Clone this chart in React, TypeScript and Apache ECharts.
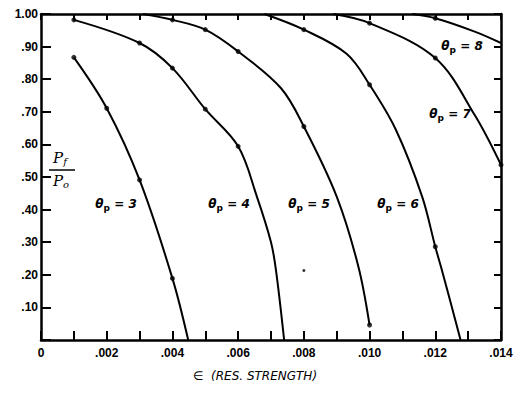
import React, { useEffect, useRef } from "react";
import * as echarts from "echarts";

// Curves (epsilon, Pf/Po)
const curve3: number[][] = [[0.001, 0.867], [0.002, 0.711], [0.003, 0.491], [0.004, 0.189], [0.00448, 0]];
const curve4: number[][] = [[0.001, 0.982], [0.003, 0.911], [0.004, 0.834], [0.005, 0.708], [0.006, 0.594], [0.00657, 0.44], [0.007, 0.3], [0.00715, 0.215], [0.0074, 0]];
const curve5: number[][] = [[0.0031, 1.0], [0.004, 0.982], [0.005, 0.952], [0.006, 0.885], [0.0073, 0.773], [0.008, 0.655], [0.009, 0.44], [0.00966, 0.225], [0.01, 0.046]];
const curve6: number[][] = [[0.0068, 1.0], [0.008, 0.952], [0.0093, 0.878], [0.01, 0.783], [0.0108, 0.645], [0.0116, 0.44], [0.012, 0.286], [0.0122, 0.215], [0.01277, 0]];
const curve7: number[][] = [[0.0089, 1.0], [0.01, 0.972], [0.012, 0.865], [0.0132, 0.69], [0.014, 0.537]];
const curve8: number[][] = [[0.0113, 1.0], [0.012, 0.987], [0.0132, 0.946], [0.014, 0.911]];

// Measured points (dots)
const marks3: number[][] = [[0.001, 0.867], [0.002, 0.711], [0.003, 0.491], [0.004, 0.189]];
const marks4: number[][] = [[0.001, 0.982], [0.003, 0.911], [0.004, 0.834], [0.005, 0.708], [0.006, 0.594]];
const marks5: number[][] = [[0.004, 0.982], [0.005, 0.952], [0.006, 0.885], [0.008, 0.655], [0.01, 0.046]];
const marks6: number[][] = [[0.008, 0.952], [0.01, 0.783], [0.012, 0.286]];
const marks7: number[][] = [[0.01, 0.972], [0.012, 0.865], [0.014, 0.537]];
const marks8: number[][] = [[0.012, 0.987]];
const strayPoint: number[][] = [[0.008, 0.213]];

const thetaValues = ["3", "4", "5", "6", "7", "8"];
const xTitle = "∈  (RES. STRENGTH)";

const FONT = "DejaVu Sans";

export default function App() {
  const ref = useRef<HTMLDivElement>(null);
  useEffect(() => {
    if (!ref.current) return;
    const chart = echarts.init(ref.current, null, { renderer: "svg" });
    const curves = [curve3, curve4, curve5, curve6, curve7, curve8];
    const marks = [marks3, marks4, marks5, marks6, marks7, marks8];
    const labelPos = [[116, 204], [229, 204], [309, 204], [398, 204], [450, 114], [462, 46]];

    const lineSeries = curves.map((c, i) => ({
      type: "line",
      name: "θp = " + thetaValues[i],
      data: c,
      smooth: 0.35,
      showSymbol: false,
      symbol: "none",
      lineStyle: { color: "#000", width: 2 },
      silent: true,
    }));
    const markSeries = marks.map((m) => ({
      type: "scatter",
      data: m,
      symbolSize: 5,
      itemStyle: { color: "#000" },
      silent: true,
    }));

    const mkLine = () => ({ show: true, onZero: false, lineStyle: { color: "#000", width: 2.5 } });
    const mkTick = (len: number) => ({ show: true, inside: true, length: len, lineStyle: { color: "#000", width: 2 } });
    const xFmt = (v: number) => {
      const k = Math.round(v * 1000);
      if (k === 0) return "0";
      if (k % 2 !== 0) return "";
      return "." + String(k).padStart(3, "0");
    };
    const yFmt = (v: number) => {
      const k = Math.round(v * 100);
      if (k === 0) return "";
      if (k === 100) return "1.00";
      return "." + String(k).padStart(2, "0");
    };

    const labelGraphics = thetaValues.map((t, i) => ({
      type: "text",
      x: labelPos[i][0],
      y: labelPos[i][1],
      style: {
        text: "{a|θ}{b|p}{a| = " + t + "}",
        align: "center",
        verticalAlign: "middle",
        fill: "#000",
        rich: {
          a: { fontFamily: FONT, fontWeight: "bold", fontSize: 12, fill: "#000", fontStyle: "italic" },
          b: { fontFamily: FONT, fontWeight: "bold", fontSize: 9, fill: "#000", padding: [8, 0, 0, 0], verticalAlign: "bottom" },
        },
      },
    }));

    const fracRich = {
      a: { fontFamily: "DejaVu Serif", fontStyle: "italic", fontSize: 15, fill: "#000" },
      b: { fontFamily: "DejaVu Serif", fontStyle: "italic", fontSize: 10, fill: "#000", padding: [6, 0, 0, 0], verticalAlign: "bottom" },
    };

    const gridRect = { left: 41, right: 15, top: 14, bottom: 57 };

    chart.setOption({
      animation: false,
      grid: [gridRect, gridRect],
      xAxis: [
        { type: "value", gridIndex: 0, min: 0, max: 0.014, show: false },
        {
          type: "value", gridIndex: 1, min: 0, max: 0.014, interval: 0.001, position: "bottom",
          axisLine: mkLine(), splitLine: { show: false },
          axisTick: mkTick(9),
          axisLabel: { formatter: xFmt, margin: 7, color: "#000", fontWeight: "bold", fontSize: 12 },
        },
        {
          type: "value", gridIndex: 1, min: 0, max: 0.014, interval: 0.001, position: "top",
          axisLine: mkLine(), splitLine: { show: false },
          axisTick: mkTick(6),
          axisLabel: { show: false },
        },
      ],
      yAxis: [
        { type: "value", gridIndex: 0, min: 0, max: 1, show: false },
        {
          type: "value", gridIndex: 1, min: 0, max: 1, interval: 0.1, position: "left",
          axisLine: mkLine(), splitLine: { show: false },
          axisTick: mkTick(10),
          axisLabel: { formatter: yFmt, margin: 3, color: "#000", fontWeight: "bold", fontSize: 12 },
        },
        {
          type: "value", gridIndex: 1, min: 0, max: 1, interval: 0.1, position: "right",
          axisLine: mkLine(), splitLine: { show: false },
          axisTick: mkTick(7),
          axisLabel: { show: false },
        },
      ],
      series: [
        ...lineSeries,
        ...markSeries,
        { type: "scatter", data: strayPoint, symbolSize: 3, itemStyle: { color: "#000" }, silent: true },
      ],
      graphic: [
        ...labelGraphics,
        { type: "text", x: 60, y: 158, style: { text: "{a|P}{b|f}", align: "center", verticalAlign: "middle", rich: fracRich } },
        { type: "line", shape: { x1: 49, y1: 170, x2: 75, y2: 170 }, style: { stroke: "#000", lineWidth: 1.5 } },
        { type: "text", x: 61, y: 181, style: { text: "{a|P}{b|o}", align: "center", verticalAlign: "middle", rich: fracRich } },
        {
          type: "text", x: 255, y: 376,
          style: { text: xTitle, align: "center", verticalAlign: "middle", fill: "#000", fontFamily: FONT, fontStyle: "italic", fontSize: 12 },
        },
      ],
    });
    return () => chart.dispose();
  }, []);
  return <div ref={ref} style={{ position: "fixed", left: 0, top: 0, width: 516, height: 397, background: "#fff" }} />;
}
